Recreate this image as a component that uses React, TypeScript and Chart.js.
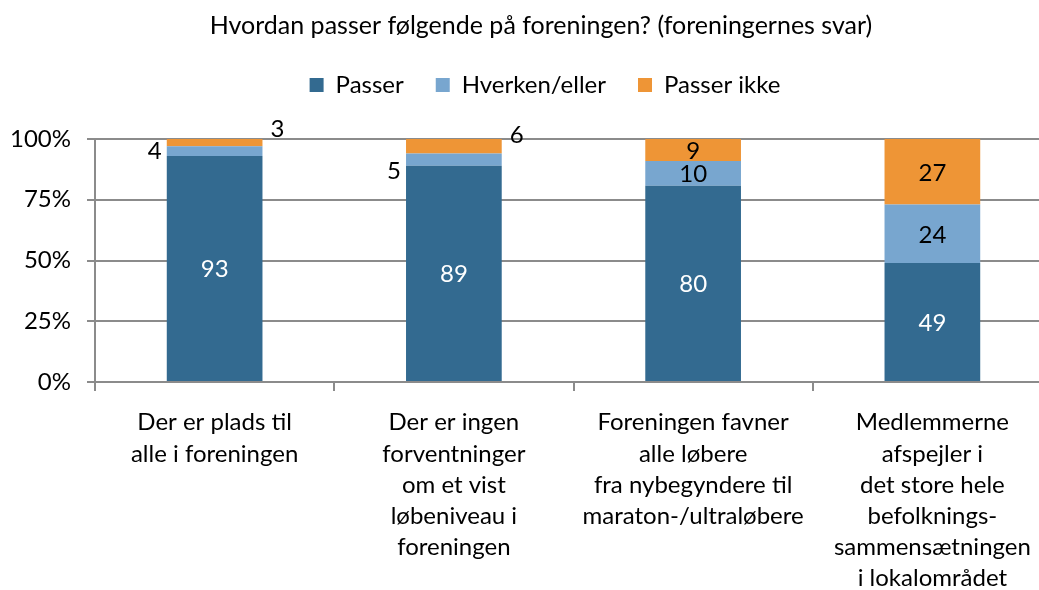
import React, { useEffect, useRef } from "react";
import { Chart, registerables } from "chart.js";

Chart.register(...registerables);

const TITLE = "Hvordan passer følgende på foreningen? (foreningernes svar)";
const categories: string[][] = [
  ["Der er plads til", "alle i foreningen"],
  ["Der er ingen", "forventninger", "om et vist", "løbeniveau i", "foreningen"],
  ["Foreningen favner", "alle løbere", "fra nybegyndere til", "maraton-/ultraløbere"],
  ["Medlemmerne", "afspejler i", "det store hele", "befolknings-", "sammensætningen", "i lokalområdet"],
];
const seriesNames = ["Passer", "Hverken/eller", "Passer ikke"];
const passer = [93, 89, 80, 49];
const hverken = [4, 5, 10, 24];
const passerIkke = [3, 6, 9, 27];
const yTicks = [0, 25, 50, 75, 100];

const colors = ["#336A90", "#78A6CF", "#EE9536"];
const labelColors = ["#FFFFFF", "#000000", "#000000"];
// vertical nudges for labels that sit outside a bar (per category)
const outsideNudgeHverken = [0, 12, 0, 0];
const outsideNudgeIkke = [-13, -11, 0, 0];

const FONT = "Lato, 'Open Sans', sans-serif";

const raw = [passer, hverken, passerIkke];
const totals = categories.map((_, i) => raw.reduce((s, arr) => s + arr[i], 0));
const pct = (arr: number[]) => arr.map((v, i) => (v / totals[i]) * 100);

const labelPlugin = {
  id: "segLabels",
  afterDatasetsDraw(chart: any) {
    const ctx = chart.ctx;
    ctx.save();
    ctx.font = `24px ${FONT}`;
    ctx.textBaseline = "middle";
    chart.data.datasets.forEach((ds: any, di: number) => {
      const meta = chart.getDatasetMeta(di);
      meta.data.forEach((bar: any, i: number) => {
        const v = raw[di][i];
        const top = Math.min(bar.y, bar.base);
        const bottom = Math.max(bar.y, bar.base);
        const cy = (top + bottom) / 2;
        const half = bar.width / 2;
        if (v < 7 && di === 1) {
          ctx.fillStyle = "#000";
          ctx.textAlign = "right";
          ctx.fillText(String(v), bar.x - half - 5, cy + outsideNudgeHverken[i]);
        } else if (v < 7 && di === 2) {
          ctx.fillStyle = "#000";
          ctx.textAlign = "left";
          ctx.fillText(String(v), bar.x + half + 8, cy + outsideNudgeIkke[i]);
        } else {
          ctx.fillStyle = labelColors[di];
          ctx.textAlign = "center";
          ctx.fillText(String(v), bar.x, cy + 1);
        }
      });
    });
    ctx.restore();
  },
};

const shiftPlugin = {
  id: "shiftHeader",
  afterLayout(chart: any) {
    const dx = 15;
    if (chart.titleBlock) {
      chart.titleBlock.left += dx;
      chart.titleBlock.right += dx;
    }
    if (chart.legend) {
      chart.legend.left += dx + 4;
      chart.legend.right += dx + 4;
    }
  },
};

export default function App() {
  const ref = useRef<HTMLCanvasElement>(null);
  useEffect(() => {
    if (!ref.current) return;
    const grid = "#8B8B8B";
    const chart = new Chart(ref.current, {
      type: "bar",
      data: {
        labels: categories,
        datasets: seriesNames.map((name, di) => ({
          label: name,
          data: pct(raw[di]),
          backgroundColor: colors[di],
          borderWidth: 0,
          categoryPercentage: 1,
          barPercentage: 0.4,
        })),
      },
      plugins: [labelPlugin, shiftPlugin],
      options: {
        animation: false,
        responsive: true,
        maintainAspectRatio: false,
        layout: { padding: 0 },
        plugins: {
          title: {
            display: true,
            text: TITLE,
            color: "#000",
            font: { family: FONT, size: 25, weight: "normal", lineHeight: 1.2 },
            padding: { top: 11, bottom: 0 },
            weight: 2000,
          },
          legend: {
            display: true,
            position: "top",
            weight: 1000,
            labels: {
              color: "#000",
              font: { family: FONT, size: 24 },
              boxWidth: 14,
              boxHeight: 14,
              padding: 32,
            },
          },
          subtitle: {
            display: true,
            text: "",
            weight: 500,
            font: { size: 10, lineHeight: 1 },
            padding: { top: 22, bottom: 0 },
          },
          tooltip: { enabled: false },
        },
        scales: {
          x: {
            stacked: true,
            offset: true,
            afterFit: (s: any) => {
              s.height = 208;
            },
            grid: {
              offset: true,
              drawOnChartArea: false,
              drawTicks: true,
              tickLength: 9,
              color: grid,
              lineWidth: 2,
            },
            border: { color: grid, width: 2 },
            ticks: {
              color: "#000",
              font: { family: FONT, size: 24, lineHeight: 1.3 },
              autoSkip: false,
              maxRotation: 0,
              minRotation: 0,
              padding: 16,
            },
          },
          y: {
            stacked: true,
            min: 0,
            max: 100,
            afterFit: (s: any) => {
              s.width = 95;
            },
            afterBuildTicks: (s: any) => {
              s.ticks = yTicks.map((v) => ({ value: v }));
            },
            grid: {
              color: grid,
              lineWidth: 2,
              drawTicks: true,
              tickLength: 8,
            },
            border: { color: grid, width: 2 },
            ticks: {
              color: "#000",
              font: { family: FONT, size: 24 },
              padding: 16,
              callback: (v: any) => `${v}%`,
            },
          },
        },
      },
    });
    return () => chart.destroy();
  }, []);
  return (
    <div style={{ position: "fixed", left: 0, top: 0, width: 1039, height: 590, overflow: "hidden", background: "#fff" }}>
      <div style={{ position: "absolute", left: 0, top: 0, width: 1052, height: 590 }}>
        <canvas ref={ref} />
      </div>
    </div>
  );
}
